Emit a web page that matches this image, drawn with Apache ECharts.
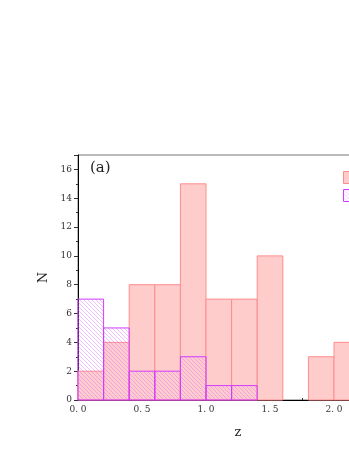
<!DOCTYPE html>
<html>
<head>
<meta charset="utf-8">
<script src="https://cdn.jsdelivr.net/npm/echarts@6/dist/echarts.min.js"></script>
<style>
  html, body { margin: 0; padding: 0; background: #fff; }
  #chart { width: 349px; height: 451px; }
</style>
</head>
<body>
<div id="chart"></div>
<script>
// 直方图的数据 (bin 宽 0.2)
const binStarts = [0.0, 0.2, 0.4, 0.6, 0.8, 1.0, 1.2, 1.4, 1.6, 1.8, 2.0]
const binWidth = 0.2
const allCounts = [2, 4, 8, 8, 15, 7, 7, 10, 0, 3, 4]
const subCounts = [7, 5, 2, 2, 3, 1, 1, 0, 0, 0, 0]
const yTicks = [0, 2, 4, 6, 8, 10, 12, 14, 16]

// 斜线填充
function makeHatch () {
  const c = document.createElement('canvas')
  c.width = 4
  c.height = 4
  const ctx = c.getContext('2d')
  ctx.strokeStyle = 'rgba(220, 110, 255, 0.55)'
  ctx.lineWidth = 0.8
  ctx.beginPath()
  ctx.moveTo(-1, -1); ctx.lineTo(5, 5)
  ctx.moveTo(-1, 3); ctx.lineTo(1, 5)
  ctx.moveTo(3, -1); ctx.lineTo(5, 1)
  ctx.stroke()
  return c
}
const hatch = makeHatch()

const serifFont = '"DejaVu Serif", "Liberation Serif", serif'

function toData (counts) {
  return binStarts.map((x, i) => [x, x + binWidth, counts[i]])
}

function renderBar (params, api) {
  const p0 = api.coord([api.value(0), 0])
  const p1 = api.coord([api.value(1), api.value(2)])
  if (api.value(2) <= 0) return null
  return {
    type: 'rect',
    shape: { x: p0[0], y: p1[1], width: p1[0] - p0[0], height: p0[1] - p1[1] },
    style: api.style()
  }
}

const pinkStyle = { color: '#ffcccc', borderColor: '#ff8c8c', borderWidth: 1 }
const purpleStyle = {
  color: { image: hatch, repeat: 'repeat' },
  borderColor: '#d03cff',
  borderWidth: 1
}

const chartInstance = echarts.init(document.getElementById('chart'))
const option = {
  animation: false,
  textStyle: { fontFamily: serifFont },
  grid: {
    left: 78,
    top: 155,
    width: 320,
    height: 245,
    outerBoundsMode: 'none',
    containLabel: false,
    show: true,
    borderColor: '#777',
    borderWidth: 1,
    backgroundColor: 'transparent'
  },
  legend: {
    left: 343,
    top: 171,
    orient: 'vertical',
    itemGap: 5,
    itemWidth: 14,
    itemHeight: 12,
    padding: 0,
    icon: 'rect',
    textStyle: { fontSize: 10, color: '#222' },
    data: [
      { name: 'all', itemStyle: pinkStyle },
      { name: 'sub', itemStyle: purpleStyle }
    ]
  },
  graphic: [
    {
      type: 'text',
      left: 90,
      top: 161,
      style: { text: '(a)', font: '15px ' + serifFont, fill: '#222' }
    }
  ],
  xAxis: {
    type: 'value',
    min: 0,
    max: 2.5,
    interval: 0.5,
    name: 'z',
    nameLocation: 'middle',
    nameGap: 26,
    nameTextStyle: { fontSize: 13, color: '#222', fontFamily: serifFont },
    axisLine: { lineStyle: { color: '#000', width: 1 } },
    axisTick: { inside: true, length: 4, lineStyle: { color: '#333' } },
    minorTick: { show: true, splitNumber: 2, length: 2, lineStyle: { color: '#333' } },
    splitLine: { show: false },
    axisLabel: {
      fontSize: 9,
      color: '#333',
      margin: 5,
      formatter: v => v.toFixed(1).replace('.', '. ')
    }
  },
  yAxis: {
    type: 'value',
    min: 0,
    max: 17,
    interval: 2,
    name: 'N',
    nameLocation: 'middle',
    nameGap: 27,
    nameTextStyle: { fontSize: 13, color: '#222', fontFamily: serifFont },
    axisLine: { show: true, lineStyle: { color: '#000', width: 1 } },
    axisTick: { show: true, length: 4, lineStyle: { color: '#333' } },
    minorTick: { show: true, splitNumber: 2, length: 2, lineStyle: { color: '#333' } },
    splitLine: { show: false },
    axisLabel: {
      fontSize: 9,
      color: '#333',
      margin: 6,
      formatter: v => (yTicks.indexOf(v) >= 0 ? String(v) : '')
    }
  },
  series: [
    {
      name: 'all',
      type: 'custom',
      renderItem: renderBar,
      encode: { x: [0, 1], y: 2 },
      itemStyle: pinkStyle,
      data: toData(allCounts)
    },
    {
      name: 'sub',
      type: 'custom',
      renderItem: renderBar,
      encode: { x: [0, 1], y: 2 },
      itemStyle: purpleStyle,
      data: toData(subCounts)
    }
  ]
}
chartInstance.setOption(option)
</script>
</body>
</html>
